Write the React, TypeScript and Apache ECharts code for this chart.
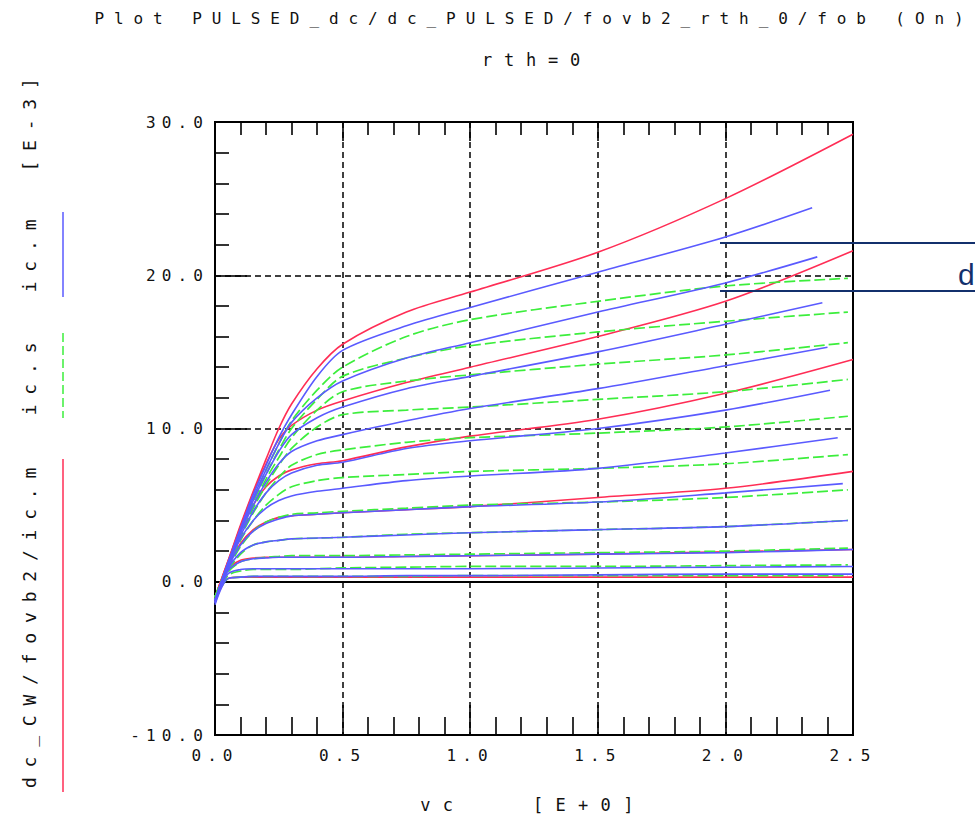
import React, { useEffect, useRef } from 'react';
import * as echarts from 'echarts';

// ---- data ----
const titleText = 'Plot PULSED_dc/dc_PULSED/fovb2_rth_0/fob (On)';
const subtitleText = 'rth=0';
const xAxisName = 'vc   [E+0]';
const yUnitText = '[E-3]';
const legendNames = ['ic.m', 'ic.s', 'dc_CW/fovb2/ic.m'];

const xTickLabels = ['0.0', '0.5', '1.0', '1.5', '2.0', '2.5'];
const yTickLabels = ['-10.0', '0.0', '10.0', '20.0', '30.0'];

// shared vc sample points (last point of each curve is its own end vc)
const vcGrid = [0, 0.05, 0.1, 0.15, 0.2, 0.25, 0.3, 0.4, 0.5, 0.75, 1.0, 1.5, 2.0];

// ic.m (measured, blue) [E-3]
const icMEnd = [2.34, 2.36, 2.38, 2.4, 2.41, 2.44, 2.46, 2.48, 2.5, 2.5, 2.5];
const icM = [
  [-1.2, 1.2, 3.5, 5.7, 7.6, 9.4, 10.9, 13.4, 15.1, 16.7, 17.9, 20.2, 22.5, 24.4],
  [-1.2, 1.2, 3.4, 5.5, 7.3, 9.0, 10.4, 12.0, 13.1, 14.6, 15.6, 17.6, 19.5, 21.2],
  [-1.2, 1.1, 3.3, 5.3, 7.0, 8.5, 9.6, 10.7, 11.4, 12.6, 13.4, 15.0, 16.8, 18.2],
  [-1.2, 1.1, 3.2, 5.0, 6.5, 7.7, 8.5, 9.2, 9.6, 10.5, 11.3, 12.6, 14.1, 15.3],
  [-1.2, 1.0, 3.0, 4.6, 5.8, 6.6, 7.1, 7.6, 7.8, 8.7, 9.2, 10.0, 11.2, 12.5],
  [-1.3, 1.0, 2.8, 4.0, 4.8, 5.3, 5.6, 5.9, 6.1, 6.6, 6.9, 7.4, 8.4, 9.4],
  [-1.3, 0.9, 2.4, 3.3, 3.8, 4.1, 4.3, 4.4, 4.5, 4.7, 4.9, 5.2, 5.8, 6.4],
  [-1.3, 0.8, 1.9, 2.4, 2.6, 2.7, 2.8, 2.85, 2.9, 3.05, 3.2, 3.4, 3.6, 4.0],
  [-1.4, 0.7, 1.3, 1.5, 1.55, 1.6, 1.6, 1.6, 1.6, 1.65, 1.7, 1.8, 1.9, 2.1],
  [-1.4, 0.5, 0.8, 0.85, 0.85, 0.85, 0.85, 0.85, 0.85, 0.85, 0.85, 0.9, 0.95, 1.0],
  [-1.5, 0.2, 0.3, 0.35, 0.35, 0.35, 0.35, 0.35, 0.35, 0.4, 0.4, 0.45, 0.5, 0.5],
];

// ic.s (simulated, green dashed) [E-3]
const icSEnd = [2.48, 2.48, 2.48, 2.48, 2.48, 2.48, 2.48, 2.48, 2.48, 2.48, 2.48];
const icS = [
  [-1.0, 1.1, 3.3, 5.4, 7.3, 9.0, 10.5, 12.5, 14.0, 16.0, 17.1, 18.3, 19.3, 19.8],
  [-1.0, 1.1, 3.2, 5.2, 7.0, 8.6, 10.0, 11.9, 13.4, 14.6, 15.4, 16.3, 17.0, 17.6],
  [-1.0, 1.0, 3.1, 5.0, 6.7, 8.1, 9.4, 11.2, 12.4, 13.1, 13.5, 14.2, 14.8, 15.6],
  [-1.0, 1.0, 3.0, 4.8, 6.3, 7.6, 8.7, 10.1, 10.9, 11.2, 11.4, 11.9, 12.4, 13.2],
  [-1.0, 0.9, 2.9, 4.5, 5.8, 6.8, 7.6, 8.3, 8.6, 9.1, 9.4, 9.7, 10.1, 10.8],
  [-1.0, 0.9, 2.7, 4.0, 5.0, 5.7, 6.2, 6.6, 6.8, 7.0, 7.2, 7.4, 7.7, 8.3],
  [-1.0, 0.8, 2.3, 3.3, 3.9, 4.2, 4.4, 4.5, 4.6, 4.8, 5.0, 5.2, 5.5, 6.0],
  [-1.0, 0.7, 1.8, 2.4, 2.6, 2.7, 2.8, 2.85, 2.9, 3.1, 3.2, 3.4, 3.6, 4.0],
  [-1.1, 0.6, 1.3, 1.5, 1.6, 1.65, 1.7, 1.7, 1.7, 1.75, 1.8, 1.9, 2.0, 2.2],
  [-1.1, 0.4, 0.7, 0.8, 0.8, 0.8, 0.8, 0.85, 0.9, 0.95, 1.0, 1.0, 1.05, 1.1],
  [-1.2, 0.2, 0.3, 0.35, 0.35, 0.35, 0.35, 0.35, 0.35, 0.35, 0.4, 0.4, 0.4, 0.4],
];

// dc_CW/fovb2/ic.m (red) [E-3]
const dcCwEnd = [2.5, 2.5, 2.5, 2.5, 2.5, 2.5];
const dcCw = [
  [-1.0, 1.3, 3.7, 5.9, 8.0, 10.0, 11.6, 13.9, 15.5, 17.6, 18.9, 21.5, 25.0, 29.2],
  [-1.0, 1.3, 3.6, 5.8, 7.7, 9.3, 10.2, 11.2, 11.8, 13.0, 14.0, 16.0, 18.3, 21.6],
  [-1.0, 1.2, 3.3, 5.0, 6.2, 6.9, 7.3, 7.7, 7.9, 8.8, 9.5, 10.6, 12.3, 14.5],
  [-1.1, 1.0, 2.5, 3.4, 3.9, 4.2, 4.3, 4.4, 4.5, 4.7, 4.9, 5.5, 6.1, 7.2],
  [-1.2, 0.8, 1.4, 1.55, 1.6, 1.6, 1.6, 1.6, 1.6, 1.65, 1.7, 1.8, 1.95, 2.1],
  [-1.3, 0.2, 0.3, 0.3, 0.3, 0.3, 0.3, 0.3, 0.3, 0.3, 0.3, 0.3, 0.3, 0.3],
];

// ---- styling ----
const MONO = '"DejaVu Sans Mono", "Liberation Mono", monospace';
const TXT = '#111';
const BLUE = '#5a5aff';
const GREEN = '#3cee3c';
const RED = '#ff2d55';
const NAVY = '#13306c';

const letterSpacing: Record<string, number> = {
  [titleText]: 9.9,
  [subtitleText]: 11.8,
  [xAxisName]: 12.3,
  [yUnitText]: 9.8,
  [legendNames[0]]: 9.8,
  [legendNames[1]]: 9.8,
  [legendNames[2]]: 9.8,
};
xTickLabels.forEach((t) => (letterSpacing[t] = 6.1));
yTickLabels.forEach((t) => (letterSpacing[t] = 6.1));

function curve(name: string, ys: number[], endVc: number, color: string, dashed: boolean, z: number) {
  const xs = [...vcGrid, endVc];
  return {
    type: 'line',
    name,
    data: xs.map((x, i) => [x, ys[i]]),
    showSymbol: false,
    symbol: 'none',
    smooth: 0.3,
    silent: true,
    z,
    lineStyle: { color, width: dashed ? 1.7 : 1.6, type: dashed ? [11, 4] : 'solid' },
  };
}

function label(text: string, x: number, y: number, size: number, rotate = false) {
  return {
    type: 'text',
    x,
    y,
    rotation: rotate ? Math.PI / 2 : 0,
    z: 100,
    style: {
      text,
      fontFamily: MONO,
      fontSize: size,
      fill: TXT,
      align: 'center',
      verticalAlign: 'middle',
      textAlign: 'center',
      textVerticalAlign: 'middle',
    },
  };
}

export default function App() {
  const ref = useRef<HTMLDivElement>(null);

  useEffect(() => {
    const el = ref.current!;
    const chart = echarts.init(el, null, { renderer: 'svg' });

    const series: any[] = [];
    dcCw.forEach((ys, i) => series.push(curve(legendNames[2], ys, dcCwEnd[i], RED, false, 2)));
    icS.forEach((ys, i) => series.push(curve(legendNames[1], ys, icSEnd[i], GREEN, true, 3)));
    icM.forEach((ys, i) => series.push(curve(legendNames[0], ys, icMEnd[i], BLUE, false, 4)));
    series[0].markLine = {
      silent: true,
      symbol: 'none',
      z: 1,
      label: { show: false },
      lineStyle: { color: '#000', type: 'solid', width: 2 },
      data: [{ yAxis: 0 }],
    };

    const tickLine = { color: '#000', width: 1.6 };
    const gridLine = { color: '#000', width: 1.5, type: [6, 4] };

    const option: any = {
      animation: false,
      backgroundColor: '#fff',
      grid: {
        left: 215,
        top: 122,
        width: 638,
        height: 613,
        show: true,
        borderColor: '#000',
        borderWidth: 2,
        backgroundColor: 'transparent',
      },
      xAxis: [
        {
          type: 'value',
          min: 0,
          max: 2.5,
          interval: 0.5,
          position: 'bottom',
          axisLine: { show: true, onZero: false, lineStyle: { color: '#000', width: 2 } },
          axisTick: { show: true, inside: true, length: 30, lineStyle: tickLine },
          minorTick: { show: true, splitNumber: 5, length: 18, lineStyle: tickLine },
          splitLine: { show: true, lineStyle: gridLine },
          axisLabel: {
            formatter: (_v: number, i: number) => xTickLabels[i],
            margin: 12,
            fontFamily: MONO,
            fontSize: 16,
            color: TXT,
          },
        },
        {
          type: 'value',
          min: 0,
          max: 2.5,
          interval: 0.5,
          position: 'top',
          axisLine: { show: true, onZero: false, lineStyle: { color: '#000', width: 2 } },
          axisTick: { show: true, inside: true, length: 19, lineStyle: tickLine },
          minorTick: { show: true, splitNumber: 5, length: 13, lineStyle: tickLine },
          splitLine: { show: false },
          axisLabel: { show: false },
        },
      ],
      yAxis: [
        {
          type: 'value',
          min: -10,
          max: 30,
          interval: 10,
          position: 'left',
          axisLine: { show: true, onZero: false, lineStyle: { color: '#000', width: 2 } },
          axisTick: { show: true, inside: true, length: 32, lineStyle: tickLine },
          minorTick: { show: true, splitNumber: 5, length: 14, lineStyle: tickLine },
          splitLine: { show: true, lineStyle: gridLine },
          axisLabel: {
            formatter: (_v: number, i: number) => yTickLabels[i],
            margin: 6,
            fontFamily: MONO,
            fontSize: 16,
            color: TXT,
          },
        },
      ],
      graphic: [
        label(titleText, 534, 18, 16),
        label(subtitleText, 537, 60, 17),
        label(xAxisName, 533, 805, 17),
        label(yUnitText, 29, 120, 18, true),
        label(legendNames[0], 29, 251, 18, true),
        label(legendNames[1], 29, 374, 18, true),
        label(legendNames[2], 29, 623, 18, true),
        { type: 'line', z: 100, shape: { x1: 63, y1: 212, x2: 63, y2: 297 }, style: { stroke: BLUE, lineWidth: 1.5 } },
        { type: 'line', z: 100, shape: { x1: 63, y1: 333, x2: 63, y2: 418 }, style: { stroke: GREEN, lineWidth: 1.5, lineDash: [9, 4] } },
        { type: 'line', z: 100, shape: { x1: 63, y1: 459, x2: 63, y2: 792 }, style: { stroke: RED, lineWidth: 1.5 } },
        // callout (cut at the right edge)
        { type: 'line', z: 100, shape: { x1: 720, y1: 243, x2: 975, y2: 243 }, style: { stroke: NAVY, lineWidth: 2 } },
        { type: 'line', z: 100, shape: { x1: 720, y1: 291, x2: 975, y2: 291 }, style: { stroke: NAVY, lineWidth: 2 } },
        {
          type: 'text',
          x: 958,
          y: 274,
          z: 100,
          style: { text: 'd', fontFamily: '"Liberation Sans", Arial, sans-serif', fontSize: 30, fill: NAVY, align: 'left', verticalAlign: 'middle', textAlign: 'left', textVerticalAlign: 'middle' },
        },
      ],
      series,
    };

    chart.setOption(option);

    const applySpacing = () => {
      el.querySelectorAll('text').forEach((t) => {
        const s = (t.textContent || '').trim();
        const ls = letterSpacing[s];
        if (ls) {
          t.setAttribute('letter-spacing', String(ls));
          (t as any).style.letterSpacing = ls + 'px';
        }
      });
    };
    applySpacing();
    chart.on('finished', applySpacing);
    const timer = window.setTimeout(applySpacing, 30);

    return () => {
      window.clearTimeout(timer);
      chart.dispose();
    };
  }, []);

  return (
    <div
      ref={ref}
      style={{ position: 'fixed', left: 0, top: 0, width: 975, height: 821, background: '#fff' }}
    />
  );
}
